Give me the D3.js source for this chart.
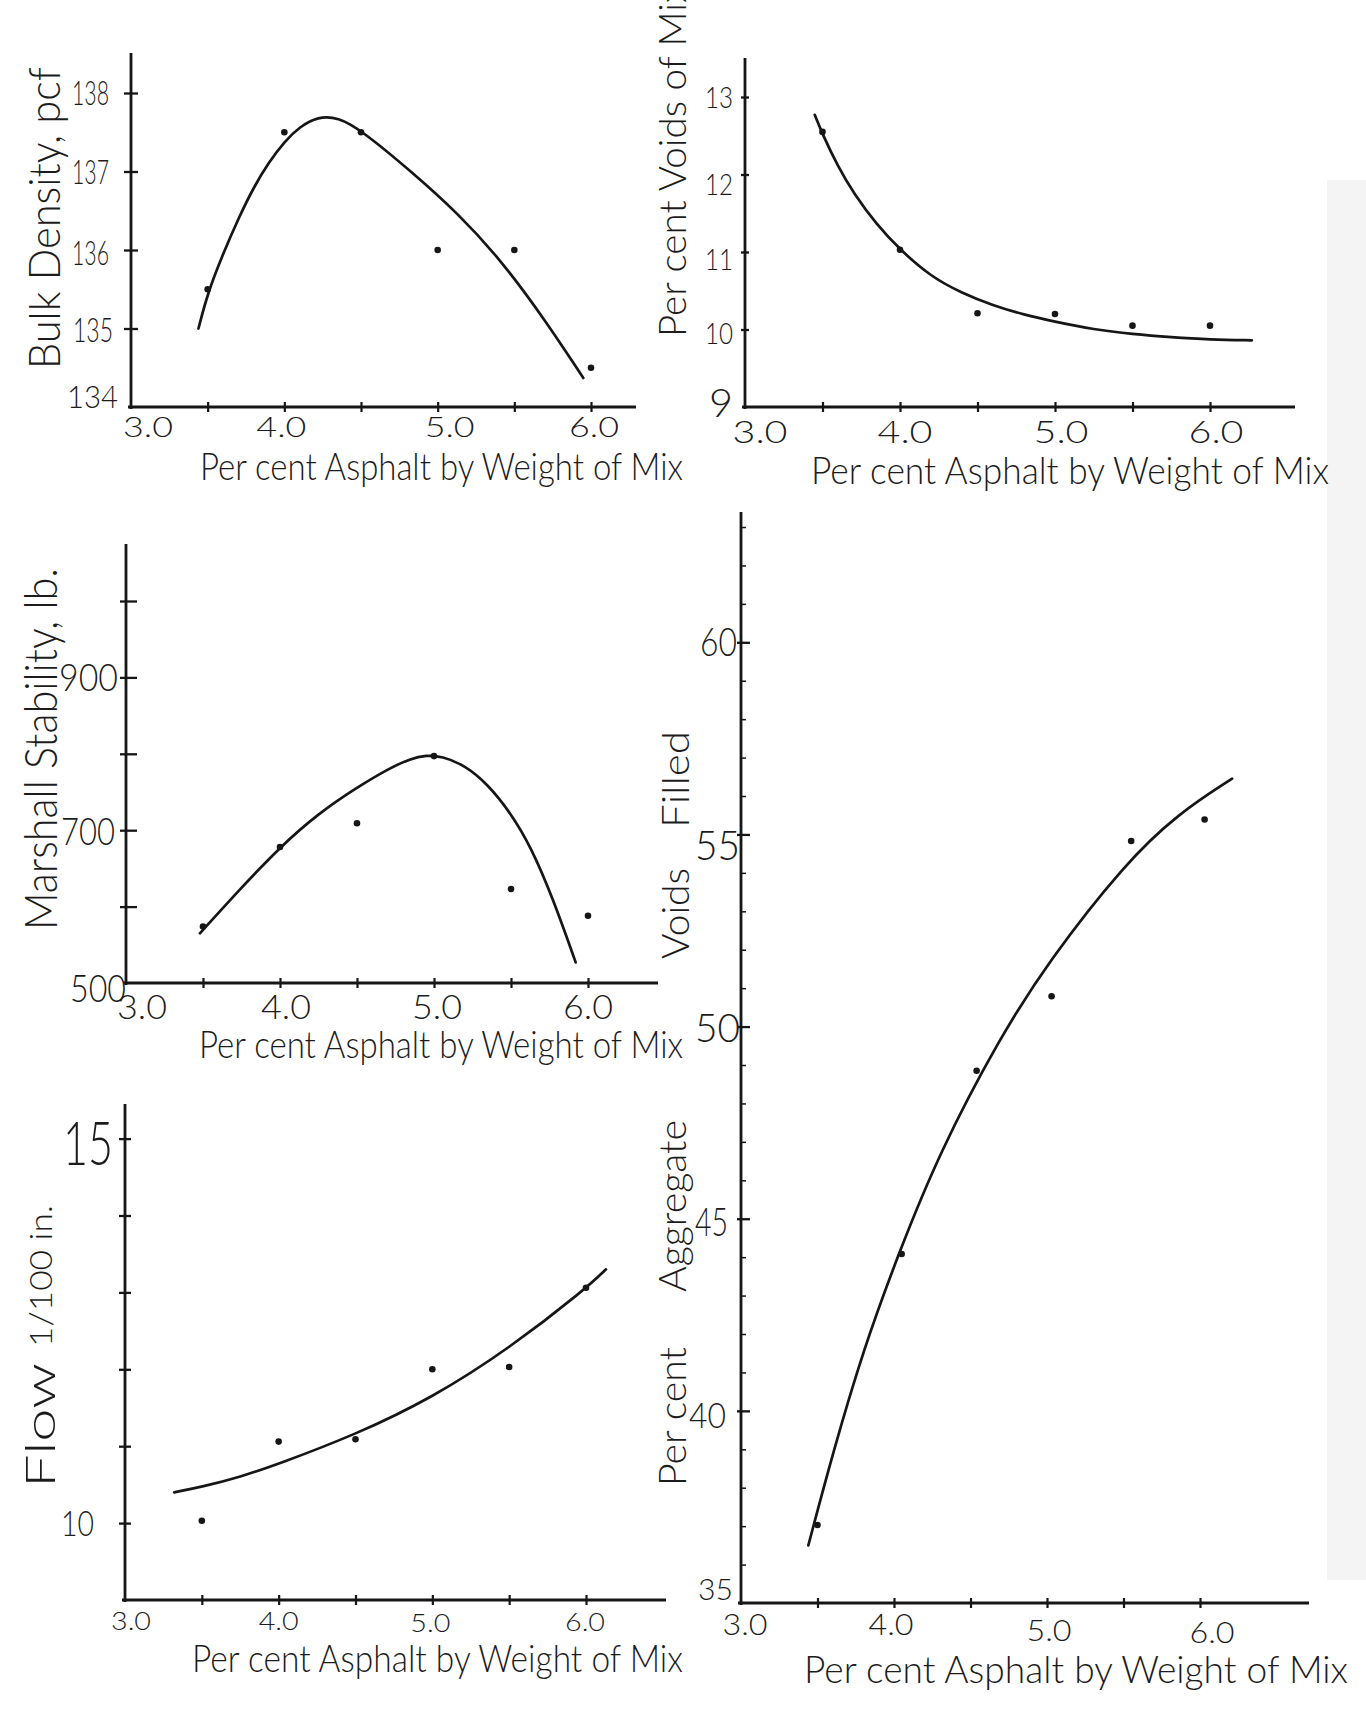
<!DOCTYPE html>
<html><head><meta charset="utf-8">
<script src="https://cdn.jsdelivr.net/npm/d3@7"></script>
<style>
html,body{margin:0;padding:0;background:#fff;}
svg{display:block;}
text{font-family:"Lato","Open Sans","DejaVu Sans",sans-serif;fill:#1c1c1c;font-weight:300;}
</style></head><body>
<svg id="chart" width="1366" height="1714"></svg>
<script>
// ---------------- data ----------------
const xDomain = [3.0, 6.0];
const xTickMarks = [3.5, 4.0, 4.5, 5.0, 5.5, 6.0];
const xLabelValues = [3.0, 4.0, 5.0, 6.0];
const xLabelTexts = ["3.0", "4.0", "5.0", "6.0"];
const xTitle = "Per cent Asphalt by Weight of Mix";

const asphaltContent = [3.5, 4.0, 4.5, 5.0, 5.5, 6.0];

// Bulk density, pcf
const bulkDensity = [135.5, 137.5, 137.5, 136.0, 136.0, 134.5];
const bulkCurveX = [3.44, 3.5, 3.6, 3.7, 3.8, 3.9, 4.0, 4.1, 4.22, 4.35, 4.5, 4.84, 5.13, 5.41, 5.70, 5.95];
const bulkCurveY = [135.0, 135.45, 135.95, 136.4, 136.8, 137.12, 137.38, 137.57, 137.7, 137.69, 137.53, 136.98, 136.47, 135.88, 135.11, 134.37];
const bulkTickValues = [135, 136, 137, 138];
const bulkLabelValues = [134, 135, 136, 137, 138];

// Per cent voids of mix
const voidsMix = [12.55, 11.03, 10.21, 10.2, 10.05, 10.05];
const voidsCurveX = [3.45, 3.5, 3.6, 3.7, 3.85, 4.0, 4.2, 4.4, 4.6, 4.8, 5.0, 5.25, 5.5, 5.75, 6.0, 6.27];
const voidsCurveY = [12.77, 12.52, 12.1, 11.76, 11.35, 11.03, 10.68, 10.47, 10.31, 10.19, 10.1, 10.0, 9.94, 9.9, 9.87, 9.86];
const voidsTickValues = [10, 11, 12, 13];
const voidsLabelValues = [9, 10, 11, 12, 13];

// Marshall stability, lb.
const stability = [574, 678, 709, 797, 623, 588];
const stabCurveX = [3.48, 3.75, 4.0, 4.25, 4.5, 4.7, 4.85, 4.95, 5.05, 5.2, 5.35, 5.5, 5.63, 5.77, 5.92];
const stabCurveY = [565, 625, 678, 722, 756, 780, 794, 798, 797, 785, 760, 722, 678, 612, 527];
const stabTickValues = [600, 700, 800, 900, 1000];
const stabLabelValues = [500, 700, 900];

// Flow, 1/100 in.
const flow = [10.03, 11.06, 11.09, 12.0, 12.03, 13.06];
const flowCurveX = [3.32, 3.5, 3.75, 4.0, 4.5, 5.0, 5.5, 6.0, 6.13];
const flowCurveY = [10.40, 10.47, 10.60, 10.77, 11.15, 11.63, 12.27, 13.05, 13.30];
const flowTickValues = [10, 11, 12, 13, 14, 15];
const flowLabelValues = [10, 15];

// Per cent aggregate voids filled
const vfaAsphalt = [3.5, 4.05, 4.54, 5.03, 5.55, 6.03];
const vfa = [37.03, 44.08, 48.85, 50.79, 54.83, 55.39];
const vfaCurveX = [3.44, 3.6, 3.8, 4.03, 4.3, 4.69, 5.01, 5.51, 5.86, 6.21];
const vfaCurveY = [36.5, 38.9, 41.6, 44.1, 46.75, 49.7, 51.7, 54.25, 55.55, 56.45];
const vfaMajorTicks = [40, 45, 50, 55, 60];
const vfaMinorTicks = [36, 37, 38, 39, 41, 42, 43, 44, 46, 47, 48, 49, 51, 52, 53, 54, 56, 57, 58, 59, 61, 62, 63];
const vfaLabelValues = [35, 40, 45, 50, 55, 60];

// ---------------- drawing ----------------
const INK = "#161616";
const svg = d3.select("#chart");
svg.append("rect").attr("x", 0).attr("y", 0).attr("width", 1366).attr("height", 1714).attr("fill", "#ffffff");
svg.append("rect").attr("x", 1327).attr("y", 180).attr("width", 39).attr("height", 1400).attr("fill", "#f4f4f4");

function rotText(g, str, bx, by, size, len){
  g.append("text")
    .attr("transform", `translate(${bx},${by}) rotate(-90)`)
    .attr("font-size", size)
    .attr("textLength", len).attr("lengthAdjust", "spacingAndGlyphs")
    .text(str);
}

function drawPanel(p){
  const x = d3.scaleLinear().domain(xDomain).range(p.xRange);
  const y = d3.scaleLinear().domain(p.yDomain).range(p.yRange);
  const g = svg.append("g");
  const x0 = x(xDomain[0]), y0 = y(p.yDomain[0]);

  // axis lines
  g.append("line").attr("x1", x0).attr("x2", x0).attr("y1", y0 + 2).attr("y2", p.yAxisTop)
    .attr("stroke", INK).attr("stroke-width", 2.8);
  g.append("line").attr("x1", x0 - 3).attr("x2", p.xAxisEnd).attr("y1", y0).attr("y2", y0)
    .attr("stroke", INK).attr("stroke-width", 3);

  // x tick marks
  const gx = g.append("g").attr("transform", `translate(0,${y0})`)
    .call(d3.axisBottom(x).tickValues(xTickMarks).tickSize(5).tickFormat(""));
  gx.select(".domain").remove();
  gx.selectAll(".tick line").attr("y1", -5).attr("y2", 5).attr("stroke", INK).attr("stroke-width", 2.2);

  // y tick marks
  const gy = g.append("g").attr("transform", `translate(${x0},0)`)
    .call(d3.axisLeft(y).tickValues(p.yTicks).tickSize(p.yTickLen).tickFormat(""));
  gy.select(".domain").remove();
  gy.selectAll(".tick line").attr("x1", -p.yTickLen).attr("x2", p.yTickLenR).attr("stroke", INK).attr("stroke-width", 2.3);

  if (p.yMinor){
    const gm = g.append("g").attr("transform", `translate(${x0},0)`)
      .call(d3.axisRight(y).tickValues(p.yMinor).tickSize(5).tickFormat(""));
    gm.select(".domain").remove();
    gm.selectAll(".tick line").attr("stroke", INK).attr("stroke-width", 1.5);
  }

  // y tick labels
  p.yLabels.forEach((v, i) => {
    g.append("text")
      .attr("x", x0 + p.yLabelDx[i]).attr("y", y(v) + p.yLabelDy[i])
      .attr("text-anchor", "end")
      .attr("font-size", p.yLabelSize[i])
      .attr("textLength", p.yLabelW[i]).attr("lengthAdjust", "spacingAndGlyphs")
      .text(d3.format("d")(v));
  });

  // x tick labels
  xLabelValues.forEach((v, i) => {
    g.append("text")
      .attr("x", x(v) + p.xLabelDx[i] - p.xLabelW / 2).attr("y", y0 + p.xLabelDy[i])
      .attr("font-size", p.xLabelSize)
      .attr("font-weight", p.xLabelWeight || 300)
      .attr("textLength", p.xLabelW).attr("lengthAdjust", "spacingAndGlyphs")
      .text(xLabelTexts[i]);
  });

  // x title
  g.append("text").attr("x", p.xTitle[0]).attr("y", p.xTitle[1])
    .attr("font-size", 38)
    .attr("textLength", p.xTitle[2]).attr("lengthAdjust", "spacingAndGlyphs")
    .text(xTitle);

  // y title pieces
  p.yTitle.forEach(t => rotText(g, t[0], t[1], t[2], t[3], t[4]));

  // smooth fitted curve
  const pts = p.curveX.map((cx, i) => [cx, p.curveY[i]]);
  g.append("path").datum(pts)
    .attr("d", d3.line().x(d => x(d[0])).y(d => y(d[1])).curve(d3.curveBasis))
    .attr("fill", "none").attr("stroke", INK).attr("stroke-width", 2.7).attr("stroke-linecap", "round");

  // points
  g.selectAll("circle.pt").data(p.pointsX.map((px, i) => [px, p.pointsY[i]])).enter()
    .append("circle").attr("cx", d => x(d[0])).attr("cy", d => y(d[1])).attr("r", 3.3).attr("fill", INK);
}

// Panel 1: bulk density
drawPanel({
  xRange: [131, 591], yDomain: [134, 138], yRange: [407, 93],
  yAxisTop: 53, xAxisEnd: 636,
  yTicks: bulkTickValues, yTickLen: 7, yTickLenR: 7,
  yLabels: bulkLabelValues,
  yLabelDx: [-13, -18, -22, -22, -22], yLabelDy: [1, 13, 15, 12, 12],
  yLabelSize: [32, 34, 34, 34, 34], yLabelW: [51, 40, 37, 37, 37],
  xLabelDx: [17, -3, 12, 3], xLabelDy: [30, 30, 30, 30], xLabelSize: 28, xLabelW: 50,
  xTitle: [200, 480, 483],
  yTitle: [["Bulk Density, pcf", 60, 369, 44, 302]],
  curveX: bulkCurveX, curveY: bulkCurveY,
  pointsX: asphaltContent, pointsY: bulkDensity
});

// Panel 2: voids of mix
drawPanel({
  xRange: [745, 1210], yDomain: [9, 13], yRange: [407, 97],
  yAxisTop: 58, xAxisEnd: 1295,
  yTicks: voidsTickValues, yTickLen: 4, yTickLenR: 4,
  yLabels: voidsLabelValues,
  yLabelDx: [-12, -12, -12, -12, -12], yLabelDy: [10, 14, 18, 20, 11],
  yLabelSize: [40, 30, 30, 30, 30], yLabelW: [24, 28, 28, 28, 28],
  xLabelDx: [15, 5, 6, 6], xLabelDy: [36, 36, 36, 36], xLabelSize: 32, xLabelW: 55,
  xTitle: [811, 484, 518],
  yTitle: [["Per cent Voids of Mix", 686, 337, 38, 352]],
  curveX: voidsCurveX, curveY: voidsCurveY,
  pointsX: asphaltContent, pointsY: voidsMix
});

// Panel 3: Marshall stability
drawPanel({
  xRange: [126, 588], yDomain: [500, 1000], yRange: [983, 601],
  yAxisTop: 544, xAxisEnd: 658,
  yTicks: stabTickValues, yTickLen: 6, yTickLenR: 11,
  yLabels: stabLabelValues,
  yLabelDx: [0, -11, -8], yLabelDy: [19, 15, 14],
  yLabelSize: [37, 37, 37], yLabelW: [56, 54, 59],
  xLabelDx: [16, 6, 3, 0], xLabelDy: [36, 36, 36, 36], xLabelSize: 33, xLabelW: 50,
  xTitle: [199, 1058, 484],
  yTitle: [["Marshall Stability, lb.", 57, 930, 46, 362]],
  curveX: stabCurveX, curveY: stabCurveY,
  pointsX: asphaltContent, pointsY: stability
});

// Panel 4: flow
drawPanel({
  xRange: [125, 586], yDomain: [9, 15], yRange: [1600, 1138.6],
  yAxisTop: 1104, xAxisEnd: 666,
  yTicks: flowTickValues, yTickLen: 6, yTickLenR: 6,
  yLabels: flowLabelValues,
  yLabelDx: [-31, -12], yLabelDy: [13, 26],
  yLabelSize: [36, 62], yLabelW: [33, 50],
  xLabelDx: [6, 0, -2, -1], xLabelDy: [30, 30, 32, 31], xLabelSize: 25, xLabelW: 40, xLabelWeight: 700,
  xTitle: [192, 1672, 491],
  yTitle: [["Flow", 55, 1488, 42, 125], ["1/100 in.", 52, 1347, 32, 142]],
  curveX: flowCurveX, curveY: flowCurveY,
  pointsX: asphaltContent, pointsY: flow
});

// Panel 5: aggregate voids filled
drawPanel({
  xRange: [741, 1200], yDomain: [35, 60], yRange: [1603, 642.3],
  yAxisTop: 512, xAxisEnd: 1309,
  yTicks: vfaMajorTicks, yTickLen: 4, yTickLenR: 9,
  yMinor: vfaMinorTicks,
  yLabels: vfaLabelValues,
  yLabelDx: [-8, -15, -13, -1, -1, -4], yLabelDy: [-3, 17, 17, 15, 26, 14],
  yLabelSize: [30, 36, 40, 40, 42, 40], yLabelW: [35, 37, 33, 45, 45, 37],
  xLabelDx: [4, -3, 2, 12], xLabelDy: [32, 32, 38, 40], xLabelSize: 29, xLabelW: 45,
  xTitle: [804, 1683, 544],
  yTitle: [["Per cent", 686, 1486, 38, 139], ["Aggregate", 686, 1292, 38, 172],
           ["Voids", 689, 959, 38, 91], ["Filled", 689, 828, 38, 97]],
  curveX: vfaCurveX, curveY: vfaCurveY,
  pointsX: vfaAsphalt, pointsY: vfa
});
</script>
</body></html>
